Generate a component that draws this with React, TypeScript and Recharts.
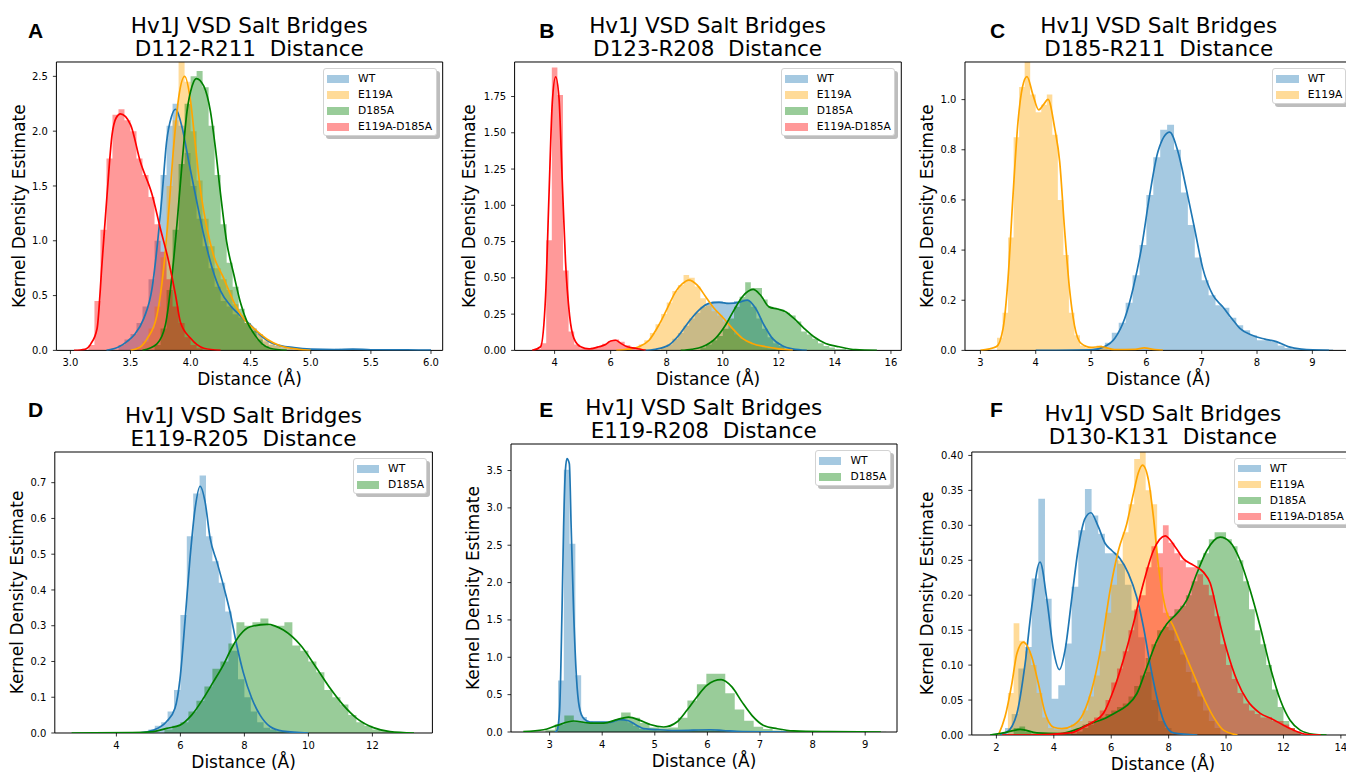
import React from 'react';
import { ComposedChart, Area, Line, XAxis, YAxis, ReferenceArea, Legend, Label } from 'recharts';

const FONT = '"DejaVu Sans", Verdana, sans-serif';
const COLORS: Record<string, string> = { WT: '#1f77b4', E119A: '#ffa500', D185A: '#008000', DBL: '#ff0000' };
const NAMES: Record<string, string> = { WT: 'WT', E119A: 'E119A', D185A: 'D185A', DBL: 'E119A-D185A' };

// ---------- Panel A : D112-R211 ----------
const A_X_TICKS = [3.0, 3.5, 4.0, 4.5, 5.0, 5.5, 6.0];
const A_Y_TICKS = [0, 0.5, 1.0, 1.5, 2.0, 2.5];
const A_WT_BIN = [3.4, 0.05];
const A_WT_HIST = [0.05, 0.1, 0.15, 0.25, 0.4, 0.65, 1.0, 1.6, 2.05, 2.25, 2.05, 1.8, 1.5, 1.2, 0.95, 0.75, 0.58, 0.45, 0.4, 0.33, 0.3, 0.25, 0.2, 0.15, 0.08, 0.05, 0.04, 0.03, 0.02, 0.015, 0.01, 0.01, 0.01, 0.01, 0.01, 0.01, 0.015, 0.01, 0.01, 0.005, 0.005, 0.005, 0.005, 0.005, 0.005, 0.005, 0.005, 0.005, 0.005, 0.005, 0.005, 0.005];
const A_WT_KDE = [[3.3, 0], [3.4, 0.03], [3.47, 0.08], [3.53, 0.14], [3.61, 0.29], [3.68, 0.57], [3.72, 0.93], [3.763, 1.42], [3.8, 1.9], [3.84, 2.13], [3.874, 2.2], [3.93, 2.03], [3.985, 1.72], [4.04, 1.42], [4.11, 1.05], [4.18, 0.75], [4.25, 0.54], [4.33, 0.41], [4.41, 0.32], [4.5, 0.23], [4.58, 0.14], [4.69, 0.06], [4.86, 0.025], [5.0, 0.012], [5.2, 0.008], [5.35, 0.012], [5.5, 0.006], [5.8, 0.004], [6.0, 0.002]];
const A_E119A_BIN = [3.55, 0.05];
const A_E119A_HIST = [0.03, 0.08, 0.2, 0.4, 0.85, 1.5, 2.1, 2.7, 2.45, 2.0, 1.55, 1.2, 0.95, 0.75, 0.65, 0.55, 0.42, 0.32, 0.25, 0.2, 0.15, 0.1, 0.06, 0.04, 0.02, 0.01];
const A_E119A_KDE = [[3.5, 0], [3.58, 0.03], [3.64, 0.11], [3.72, 0.32], [3.776, 0.75], [3.818, 1.27], [3.86, 1.87], [3.9, 2.3], [3.951, 2.5], [4.0, 2.27], [4.04, 1.87], [4.08, 1.48], [4.137, 1.11], [4.19, 0.87], [4.275, 0.66], [4.36, 0.44], [4.44, 0.29], [4.525, 0.2], [4.64, 0.1], [4.75, 0.04], [4.9, 0.01], [5.0, 0]];
const A_D185A_BIN = [3.7, 0.05];
const A_D185A_HIST = [0.05, 0.2, 0.55, 1.1, 1.7, 2.25, 2.5, 2.55, 2.4, 2.05, 1.6, 1.15, 0.8, 0.58, 0.38, 0.25, 0.18, 0.1, 0.04, 0.01];
const A_D185A_KDE = [[3.6, 0], [3.72, 0.06], [3.79, 0.23], [3.846, 0.69], [3.888, 1.17], [3.93, 1.72], [3.97, 2.18], [4.012, 2.41], [4.048, 2.48], [4.11, 2.41], [4.165, 2.18], [4.207, 1.84], [4.25, 1.42], [4.3, 0.99], [4.36, 0.69], [4.414, 0.44], [4.47, 0.26], [4.525, 0.155], [4.595, 0.06], [4.66, 0.02], [4.8, 0]];
const A_DBL_BIN = [3.15, 0.05];
const A_DBL_HIST = [0.05, 0.45, 1.1, 1.75, 2.15, 2.2, 2.1, 2.0, 1.75, 1.6, 1.4, 1.15, 0.9, 0.65, 0.4, 0.25, 0.12, 0.05, 0.02];
const A_DBL_KDE = [[3.03, 0], [3.12, 0.01], [3.17, 0.06], [3.222, 0.2], [3.264, 0.81], [3.305, 1.42], [3.347, 1.97], [3.38, 2.12], [3.416, 2.157], [3.5, 2.06], [3.582, 1.72], [3.68, 1.42], [3.749, 1.11], [3.818, 0.81], [3.874, 0.51], [3.915, 0.26], [4.0, 0.11], [4.11, 0.02], [4.25, 0]];

// ---------- Panel B : D123-R208 ----------
const B_X_TICKS = [4, 6, 8, 10, 12, 14, 16];
const B_Y_TICKS = [0, 0.25, 0.5, 0.75, 1.0, 1.25, 1.5, 1.75];
const B_WT_BIN = [7.8, 0.2];
const B_WT_HIST = [0.02, 0.04, 0.08, 0.12, 0.17, 0.22, 0.26, 0.3, 0.32, 0.34, 0.34, 0.33, 0.32, 0.34, 0.35, 0.34, 0.3, 0.22, 0.15, 0.09, 0.05, 0.03, 0.01];
const B_WT_KDE = [[7.2, 0], [7.6, 0.008], [8.08, 0.037], [8.44, 0.106], [8.79, 0.198], [9.15, 0.278], [9.51, 0.324], [9.87, 0.331], [10.22, 0.324], [10.58, 0.331], [10.88, 0.347], [11.17, 0.29], [11.47, 0.175], [11.77, 0.083], [12.12, 0.032], [12.48, 0.01], [13.0, 0]];
const B_E119A_BIN = [7.0, 0.2];
const B_E119A_HIST = [0.04, 0.07, 0.12, 0.18, 0.25, 0.33, 0.41, 0.45, 0.52, 0.5, 0.44, 0.36, 0.31, 0.27, 0.24, 0.2, 0.15, 0.11, 0.08, 0.06, 0.04, 0.03, 0.02, 0.01, 0.01];
const B_E119A_KDE = [[6.2, 0], [6.6, 0.008], [7.01, 0.025], [7.37, 0.07], [7.72, 0.175], [8.02, 0.29], [8.32, 0.405], [8.56, 0.46], [8.79, 0.485], [9.09, 0.45], [9.39, 0.37], [9.69, 0.29], [9.98, 0.232], [10.34, 0.152], [10.7, 0.083], [11.05, 0.048], [11.53, 0.025], [12.0, 0.01], [12.5, 0]];
const B_D185A_BIN = [9.2, 0.2];
const B_D185A_HIST = [0.02, 0.04, 0.07, 0.1, 0.15, 0.22, 0.3, 0.37, 0.47, 0.43, 0.43, 0.35, 0.3, 0.29, 0.28, 0.26, 0.24, 0.2, 0.13, 0.11, 0.08, 0.05, 0.03, 0.02, 0.01, 0.01];
const B_D185A_KDE = [[8.5, 0], [8.9, 0.008], [9.27, 0.025], [9.74, 0.083], [10.1, 0.175], [10.4, 0.278], [10.7, 0.37], [11.08, 0.42], [11.35, 0.38], [11.65, 0.3], [11.95, 0.285], [12.24, 0.267], [12.54, 0.22], [12.9, 0.152], [13.25, 0.094], [13.67, 0.048], [14.15, 0.025], [14.74, 0.005], [15.5, 0]];
const B_DBL_BIN = [3.3, 0.2];
const B_DBL_HIST = [0.01, 0.05, 0.76, 1.95, 1.76, 0.55, 0.13, 0.04, 0.015, 0.015, 0.02, 0.03, 0.045, 0.065, 0.075, 0.06, 0.035, 0.02, 0.01];
const B_DBL_KDE = [[3.2, 0], [3.5, 0.025], [3.68, 0.38], [3.8, 1.07], [3.918, 1.71], [4.036, 1.886], [4.157, 1.74], [4.27, 1.185], [4.39, 0.61], [4.535, 0.24], [4.69, 0.083], [4.93, 0.025], [5.23, 0.01], [5.58, 0.025], [5.82, 0.04], [6.0, 0.065], [6.18, 0.07], [6.35, 0.05], [6.59, 0.025], [6.89, 0.015], [7.25, 0]];

// ---------- Panel C : D185-R211 ----------
const C_X_TICKS = [3, 4, 5, 6, 7, 8, 9];
const C_Y_TICKS = [0, 0.2, 0.4, 0.6, 0.8, 1.0];
const C_WT_BIN = [5.125, 0.125];
const C_WT_HIST = [0.01, 0.03, 0.07, 0.11, 0.19, 0.3, 0.42, 0.62, 0.77, 0.88, 0.9, 0.8, 0.63, 0.5, 0.37, 0.28, 0.22, 0.18, 0.17, 0.13, 0.1, 0.08, 0.06, 0.04, 0.04, 0.035, 0.02, 0.01, 0.005, 0.005, 0.005, 0.005, 0.005, 0.005];
const C_WT_KDE = [[4.0, 0], [5.0, 0.002], [5.246, 0.015], [5.43, 0.048], [5.61, 0.128], [5.76, 0.247], [5.91, 0.407], [6.06, 0.62], [6.21, 0.793], [6.421, 0.87], [6.57, 0.793], [6.72, 0.646], [6.87, 0.487], [7.02, 0.327], [7.2, 0.221], [7.38, 0.174], [7.54, 0.128], [7.69, 0.088], [7.9, 0.061], [8.14, 0.045], [8.35, 0.035], [8.56, 0.015], [8.8, 0.005], [9.3, 0]];
const C_E119A_BIN = [3.3, 0.1];
const C_E119A_HIST = [0.05, 0.15, 0.45, 0.85, 1.05, 1.15, 1.02, 0.95, 0.98, 1.02, 0.86, 0.6, 0.38, 0.15, 0.06, 0.02, 0.01, 0.01, 0.02, 0.01];
const C_E119A_KDE = [[3.0, 0], [3.29, 0.015], [3.41, 0.088], [3.5, 0.287], [3.59, 0.62], [3.68, 0.912], [3.76, 1.05], [3.842, 1.092], [3.95, 1.019], [4.054, 0.959], [4.14, 0.98], [4.222, 1.001], [4.343, 0.886], [4.433, 0.753], [4.52, 0.487], [4.61, 0.247], [4.7, 0.1], [4.82, 0.028], [5.0, 0.012], [5.18, 0.015], [5.42, 0.003], [5.8, 0.004], [5.96, 0.01], [6.15, 0.003], [6.3, 0]];

// ---------- Panel D : E119-R205 ----------
const D_X_TICKS = [4, 6, 8, 10, 12];
const D_Y_TICKS = [0, 0.1, 0.2, 0.3, 0.4, 0.5, 0.6, 0.7];
const D_WT_BIN = [5.0, 0.2];
const D_WT_HIST = [0.01, 0.02, 0.03, 0.06, 0.12, 0.33, 0.55, 0.67, 0.72, 0.55, 0.48, 0.42, 0.34, 0.23, 0.15, 0.1, 0.06, 0.03, 0.015, 0.01, 0.005, 0.003];
const D_WT_KDE = [[4.7, 0], [5.16, 0.008], [5.57, 0.032], [5.83, 0.069], [5.99, 0.153], [6.15, 0.32], [6.3, 0.488], [6.46, 0.628], [6.616, 0.69], [6.77, 0.647], [6.93, 0.544], [7.14, 0.479], [7.34, 0.414], [7.55, 0.339], [7.76, 0.246], [7.96, 0.171], [8.23, 0.097], [8.49, 0.05], [8.8, 0.018], [9.2, 0.005], [10.0, 0]];
const D_D185A_BIN = [5.5, 0.25];
const D_D185A_HIST = [0.01, 0.02, 0.03, 0.06, 0.09, 0.13, 0.18, 0.2, 0.25, 0.31, 0.3, 0.31, 0.32, 0.3, 0.3, 0.31, 0.245, 0.23, 0.2, 0.17, 0.12, 0.1, 0.08, 0.05, 0.03, 0.02, 0.01, 0.005, 0.003, 0.002];
const D_D185A_KDE = [[2.6, 0], [4.5, 0.001], [5.16, 0.004], [5.57, 0.013], [5.99, 0.022], [6.35, 0.05], [6.72, 0.097], [7.03, 0.143], [7.34, 0.19], [7.6, 0.237], [7.86, 0.274], [8.18, 0.297], [8.71, 0.304], [9.22, 0.288], [9.75, 0.246], [10.26, 0.181], [10.68, 0.125], [11.09, 0.078], [11.51, 0.041], [12.03, 0.015], [12.55, 0.004], [13.3, 0]];

// ---------- Panel E : E119-R208 ----------
const E_X_TICKS = [3, 4, 5, 6, 7, 8, 9];
const E_Y_TICKS = [0, 0.5, 1.0, 1.5, 2.0, 2.5, 3.0, 3.5];
const E_WT_BIN = [3.16, 0.11];
const E_WT_HIST = [0.69, 3.51, 2.52, 0.76, 0.2, 0.14, 0.13, 0.13, 0.13, 0.14, 0.16, 0.16, 0.13, 0.08, 0.04, 0.03, 0.03, 0.02, 0.02, 0.02, 0.02, 0.02, 0.02, 0.03, 0.03, 0.03, 0.03, 0.02, 0.02, 0.01];
const E_WT_KDE = [[3.1, 0], [3.14, 0.02], [3.19, 0.29], [3.236, 1.63], [3.266, 2.74], [3.3, 3.5], [3.33, 3.66], [3.375, 3.59], [3.41, 2.74], [3.456, 1.63], [3.51, 0.736], [3.565, 0.335], [3.65, 0.178], [3.77, 0.134], [3.96, 0.134], [4.15, 0.13], [4.34, 0.165], [4.5, 0.15], [4.66, 0.088], [4.79, 0.044], [5.1, 0.03], [5.42, 0.02], [6.05, 0.03], [6.3, 0.02], [6.66, 0.005], [7.5, 0]];
const E_D185A_BIN = [2.92, 0.18];
const E_D185A_HIST = [0.03, 0.1, 0.22, 0.14, 0.13, 0.12, 0.13, 0.16, 0.26, 0.19, 0.12, 0.06, 0.05, 0.06, 0.19, 0.42, 0.64, 0.78, 0.78, 0.52, 0.3, 0.15, 0.07, 0.04, 0.02, 0.01, 0.01, 0.01, 0.005, 0.005, 0.005, 0.005, 0.005, 0.005, 0.005, 0.005];
const E_D185A_KDE = [[2.5, 0.005], [2.886, 0.03], [3.14, 0.088], [3.456, 0.147], [3.77, 0.12], [4.03, 0.12], [4.28, 0.165], [4.5, 0.2], [4.72, 0.155], [4.91, 0.1], [5.17, 0.067], [5.42, 0.134], [5.61, 0.29], [5.8, 0.469], [5.99, 0.624], [6.26, 0.7], [6.47, 0.6], [6.66, 0.4], [6.85, 0.22], [7.07, 0.088], [7.33, 0.044], [7.64, 0.015], [8.3, 0.005], [9.3, 0]];

// ---------- Panel F : D130-K131 ----------
const F_X_TICKS = [2, 4, 6, 8, 10, 12, 14];
const F_Y_TICKS = [0, 0.05, 0.1, 0.15, 0.2, 0.25, 0.3, 0.35, 0.4];
const F_WT_BIN = [2.3, 0.232];
const F_WT_HIST = [0.01, 0.03, 0.095, 0.126, 0.224, 0.338, 0.195, 0.052, 0.071, 0.131, 0.212, 0.293, 0.352, 0.314, 0.288, 0.26, 0.26, 0.245, 0.215, 0.178, 0.14, 0.09, 0.05, 0.02, 0.01];
const F_WT_KDE = [[2.0, 0], [2.36, 0.004], [2.71, 0.03], [3.0, 0.102], [3.23, 0.183], [3.52, 0.2475], [3.76, 0.193], [3.99, 0.121], [4.195, 0.0935], [4.39, 0.121], [4.63, 0.197], [4.86, 0.269], [5.09, 0.31], [5.29, 0.318], [5.55, 0.298], [5.79, 0.274], [6.02, 0.264], [6.31, 0.252], [6.6, 0.231], [6.89, 0.197], [7.12, 0.155], [7.35, 0.102], [7.59, 0.054], [7.82, 0.021], [8.17, 0.003], [9.0, 0]];
const F_E119A_BIN = [2.4, 0.2];
const F_E119A_HIST = [0.06, 0.16, 0.135, 0.12, 0.1, 0.06, 0.025, 0.01, 0.008, 0.008, 0.008, 0.015, 0.02, 0.035, 0.055, 0.085, 0.12, 0.175, 0.215, 0.25, 0.29, 0.33, 0.395, 0.41, 0.35, 0.33, 0.24, 0.175, 0.15, 0.135, 0.115, 0.09, 0.075, 0.055, 0.035, 0.02, 0.01];
const F_E119A_KDE = [[2.07, 0], [2.3, 0.026], [2.54, 0.074], [2.71, 0.116], [2.94, 0.133], [3.23, 0.112], [3.46, 0.074], [3.7, 0.031], [3.99, 0.011], [4.28, 0.009], [4.68, 0.014], [5.03, 0.031], [5.38, 0.074], [5.67, 0.131], [5.96, 0.207], [6.25, 0.264], [6.54, 0.302], [6.77, 0.345], [6.95, 0.376], [7.09, 0.386], [7.3, 0.364], [7.47, 0.312], [7.65, 0.24], [7.88, 0.183], [8.17, 0.155], [8.52, 0.121], [8.86, 0.088], [9.21, 0.054], [9.56, 0.026], [9.91, 0.007], [10.4, 0]];
const F_D185A_BIN = [2.6, 0.2];
const F_D185A_HIST = [0.01, 0.012, 0.005, 0.002, 0.002, 0.002, 0.002, 0.002, 0.002, 0.002, 0.002, 0.005, 0.01, 0.015, 0.02, 0.025, 0.03, 0.035, 0.04, 0.045, 0.055, 0.07, 0.085, 0.11, 0.13, 0.15, 0.155, 0.17, 0.18, 0.185, 0.2, 0.22, 0.25, 0.26, 0.28, 0.29, 0.29, 0.28, 0.27, 0.25, 0.22, 0.18, 0.15, 0.13, 0.1, 0.065, 0.04, 0.02, 0.01, 0.005];
const F_D185A_KDE = [[1.78, 0], [2.24, 0.003], [2.83, 0.008], [3.41, 0.003], [4.22, 0.002], [4.8, 0.008], [5.26, 0.016], [5.73, 0.023], [6.19, 0.033], [6.54, 0.042], [6.89, 0.059], [7.24, 0.097], [7.59, 0.135], [7.94, 0.159], [8.29, 0.174], [8.63, 0.193], [8.98, 0.231], [9.33, 0.264], [9.795, 0.283], [10.14, 0.276], [10.49, 0.25], [10.84, 0.207], [11.19, 0.155], [11.54, 0.097], [11.89, 0.05], [12.23, 0.021], [12.58, 0.007], [13.05, 0.001], [13.5, 0]];
const F_DBL_BIN = [4.6, 0.2];
const F_DBL_HIST = [0.005, 0.01, 0.015, 0.02, 0.025, 0.035, 0.05, 0.075, 0.095, 0.12, 0.15, 0.18, 0.2, 0.24, 0.27, 0.26, 0.3, 0.275, 0.26, 0.25, 0.24, 0.24, 0.23, 0.215, 0.2, 0.17, 0.13, 0.1, 0.08, 0.06, 0.045, 0.035, 0.03, 0.025, 0.025, 0.02, 0.02, 0.015, 0.01, 0.005];
const F_DBL_KDE = [[2.2, 0], [3.2, 0], [4.57, 0.003], [5.03, 0.011], [5.38, 0.019], [5.73, 0.031], [6.08, 0.064], [6.42, 0.107], [6.77, 0.159], [7.12, 0.217], [7.47, 0.264], [7.88, 0.285], [8.23, 0.269], [8.52, 0.252], [8.86, 0.243], [9.21, 0.233], [9.45, 0.217], [9.73, 0.169], [10.03, 0.121], [10.38, 0.078], [10.73, 0.05], [11.19, 0.031], [11.6, 0.023], [12.0, 0.014], [12.35, 0.007], [12.8, 0.001], [13.3, 0]];

// ---------- helpers ----------
type Series = { key: string; bin: number[]; hist: number[]; kde: number[][] };

function histRows(bin: number[], h: number[]) {
  const [start, w] = bin;
  const rows = h.map((v, i) => ({ x: +(start + i * w).toFixed(5), y: v }));
  rows.push({ x: +(start + h.length * w).toFixed(5), y: 0 });
  return rows;
}
function kdeRows(p: number[][]) {
  return p.map(([x, y]) => ({ x, y }));
}

type PanelCfg = {
  id: string;
  title2: string;
  L: number; T: number; R: number; B: number; dY: number;
  xDom: [number, number]; yDom: [number, number];
  xTicks: number[]; yTicks: number[];
  xDec: number; yDec: number;
  series: Series[];
  legendW: number;
};

const PANELS: PanelCfg[] = [
  {
    id: 'A', title2: 'D112-R211  Distance', L: 56, T: 62.3, R: 442.3, B: 350.7, dY: 37.7,
    xDom: [2.8835, 6.0973], yDom: [0, 2.631], xTicks: A_X_TICKS, yTicks: A_Y_TICKS, xDec: 1, yDec: 1,
    series: [
      { key: 'WT', bin: A_WT_BIN, hist: A_WT_HIST, kde: A_WT_KDE },
      { key: 'E119A', bin: A_E119A_BIN, hist: A_E119A_HIST, kde: A_E119A_KDE },
      { key: 'D185A', bin: A_D185A_BIN, hist: A_D185A_HIST, kde: A_D185A_KDE },
      { key: 'DBL', bin: A_DBL_BIN, hist: A_DBL_HIST, kde: A_DBL_KDE },
    ], legendW: 114,
  },
  {
    id: 'B', title2: 'D123-R208  Distance', L: 514.3, T: 62.3, R: 901, B: 350.7, dY: 45.3,
    xDom: [2.573, 16.369], yDom: [0, 1.988], xTicks: B_X_TICKS, yTicks: B_Y_TICKS, xDec: 0, yDec: 2,
    series: [
      { key: 'WT', bin: B_WT_BIN, hist: B_WT_HIST, kde: B_WT_KDE },
      { key: 'E119A', bin: B_E119A_BIN, hist: B_E119A_HIST, kde: B_E119A_KDE },
      { key: 'D185A', bin: B_D185A_BIN, hist: B_D185A_HIST, kde: B_D185A_KDE },
      { key: 'DBL', bin: B_DBL_BIN, hist: B_DBL_HIST, kde: B_DBL_KDE },
    ], legendW: 114,
  },
  {
    id: 'C', title2: 'D185-R211  Distance', L: 965.3, T: 62.3, R: 1352, B: 350.7, dY: 38,
    xDom: [2.7217, 9.711], yDom: [0, 1.15], xTicks: C_X_TICKS, yTicks: C_Y_TICKS, xDec: 0, yDec: 1,
    series: [
      { key: 'WT', bin: C_WT_BIN, hist: C_WT_HIST, kde: C_WT_KDE },
      { key: 'E119A', bin: C_E119A_BIN, hist: C_E119A_HIST, kde: C_E119A_KDE },
    ], legendW: 74,
  },
  {
    id: 'D', title2: 'E119-R205  Distance', L: 54.7, T: 452.3, R: 432.3, B: 733.3, dY: 37.4,
    xDom: [2.075, 13.875], yDom: [0, 0.7858], xTicks: D_X_TICKS, yTicks: D_Y_TICKS, xDec: 0, yDec: 1,
    series: [
      { key: 'WT', bin: D_WT_BIN, hist: D_WT_HIST, kde: D_WT_KDE },
      { key: 'D185A', bin: D_D185A_BIN, hist: D_D185A_HIST, kde: D_D185A_KDE },
    ], legendW: 74,
  },
  {
    id: 'E', title2: 'E119-R208  Distance', L: 510.7, T: 444.3, R: 896.7, B: 732.3, dY: 38,
    xDom: [2.266, 9.605], yDom: [0, 3.855], xTicks: E_X_TICKS, yTicks: E_Y_TICKS, xDec: 0, yDec: 1,
    series: [
      { key: 'WT', bin: E_WT_BIN, hist: E_WT_HIST, kde: E_WT_KDE },
      { key: 'D185A', bin: E_D185A_BIN, hist: E_D185A_HIST, kde: E_D185A_KDE },
    ], legendW: 76,
  },
  {
    id: 'F', title2: 'D130-K131  Distance', L: 971.7, T: 451.7, R: 1354, B: 734.7, dY: 44.4,
    xDom: [1.143, 14.46], yDom: [0, 0.4049], xTicks: F_X_TICKS, yTicks: F_Y_TICKS, xDec: 0, yDec: 2,
    series: [
      { key: 'WT', bin: F_WT_BIN, hist: F_WT_HIST, kde: F_WT_KDE },
      { key: 'E119A', bin: F_E119A_BIN, hist: F_E119A_HIST, kde: F_E119A_KDE },
      { key: 'D185A', bin: F_D185A_BIN, hist: F_D185A_HIST, kde: F_D185A_KDE },
      { key: 'DBL', bin: F_DBL_BIN, hist: F_DBL_HIST, kde: F_DBL_KDE },
    ], legendW: 114,
  },
];

// title / letter positions: [centerX, baseline1, letterX, letterBaseline]
const TITLE_POS: Record<string, number[]> = {
  A: [249.2, 32.7, 28, 37.7],
  B: [707.6, 32.7, 539.3, 37.7],
  C: [1158.7, 32.7, 990, 38.3],
  D: [243.5, 422.7, 28, 416.7],
  E: [703.7, 415, 539.3, 416.7],
  F: [1162.8, 421, 990, 416.7],
};

function LegendBox({ keys, width }: { keys: string[]; width: number }) {
  const height = 19.7 + 16 * (keys.length - 1);
  return (
    <div
      style={{
        position: 'relative', width, height, boxSizing: 'border-box', background: '#fff',
        border: '1px solid #d3d3d3', borderRadius: 3, boxShadow: '3px 3px 0 #bdbdbd',
        fontFamily: FONT, fontSize: 10.7, color: '#000',
      }}
    >
      {keys.map((k, i) => (
        <div key={k} style={{ position: 'absolute', left: 0, top: 9.85 + 16 * i - 8, height: 16, display: 'flex', alignItems: 'center' }}>
          <div style={{ marginLeft: 3, width: 22.3, height: 7.3, background: COLORS[k], opacity: 0.4 }} />
          <span style={{ marginLeft: 9, whiteSpace: 'nowrap', lineHeight: '16px' }}>{NAMES[k]}</span>
        </div>
      ))}
    </div>
  );
}

function Panel({ cfg }: { cfg: PanelCfg }) {
  const mt = 6, mr = 6, xh = 40;
  const Wy = cfg.dY * 2;
  const plotW = cfg.R - cfg.L;
  const plotH = cfg.B - cfg.T;
  const width = Wy + plotW + mr;
  const height = mt + plotH + xh;
  const left = cfg.L - Wy;
  const top = cfg.T - mt;
  const keys = cfg.series.map((s) => s.key);
  const legH = 19.7 + 16 * (keys.length - 1);
  const legLeft = Wy + plotW - 5.5 - cfg.legendW;
  const legTop = mt + 6;
  const items: React.ReactElement[] = [];
  cfg.series.forEach((s) => {
    items.push(
      <Area
        key={s.key + '-h'}
        data={histRows(s.bin, s.hist)}
        dataKey="y"
        type="stepAfter"
        stroke="none"
        fill={COLORS[s.key]}
        fillOpacity={0.4}
        dot={false}
        activeDot={false}
        isAnimationActive={false}
      />
    );
    items.push(
      <Line
        key={s.key + '-k'}
        data={kdeRows(s.kde)}
        dataKey="y"
        type="monotone"
        stroke={COLORS[s.key]}
        strokeWidth={1.7}
        dot={false}
        activeDot={false}
        isAnimationActive={false}
      />
    );
  });
  return (
    <div style={{ position: 'absolute', left, top, width, height }}>
      <ComposedChart width={width} height={height} margin={{ top: mt, right: mr, left: 0, bottom: 0 }}>
        <XAxis
          dataKey="x"
          type="number"
          domain={cfg.xDom}
          ticks={cfg.xTicks}
          allowDataOverflow
          interval={0}
          height={xh}
          tickSize={3.5}
          tickMargin={5}
          axisLine={false}
          tickLine={{ stroke: '#000', strokeWidth: 0.8 }}
          tick={{ fontSize: 10, fill: '#000', fontFamily: FONT }}
          tickFormatter={(v: number) => v.toFixed(cfg.xDec)}
        >
          <Label value="Distance (Å)" position="insideBottom" offset={5} fontSize={17} fill="#000" fontFamily={FONT} />
        </XAxis>
        <YAxis
          type="number"
          domain={cfg.yDom}
          ticks={cfg.yTicks}
          allowDataOverflow
          interval={0}
          width={Wy}
          tickSize={3.5}
          tickMargin={5}
          axisLine={false}
          tickLine={{ stroke: '#000', strokeWidth: 0.8 }}
          tick={{ fontSize: 10, fill: '#000', fontFamily: FONT }}
          tickFormatter={(v: number) => v.toFixed(cfg.yDec)}
        >
          <Label value="Kernel Density Estimate" angle={-90} position="center" fontSize={17} fill="#000" fontFamily={FONT} />
        </YAxis>
        {items}
        <ReferenceArea x1={cfg.xDom[0]} x2={cfg.xDom[1]} y1={cfg.yDom[0]} y2={cfg.yDom[1]} fill="none" fillOpacity={0} stroke="#000" strokeWidth={1} strokeOpacity={1} />
        <Legend
          layout="vertical"
          align="center"
          verticalAlign="middle"
          wrapperStyle={{ left: legLeft, top: legTop, width: cfg.legendW + 4, height: legH + 4, right: 'auto', bottom: 'auto' }}
          content={() => <LegendBox keys={keys} width={cfg.legendW} />}
        />
      </ComposedChart>
    </div>
  );
}

export default function App() {
  return (
    <div style={{ position: 'absolute', left: 0, top: 0, width: 1346, height: 773, overflow: 'hidden', background: '#fff' }}>
      {PANELS.map((p) => (
        <Panel key={p.id} cfg={p} />
      ))}
      <svg width={1346} height={773} style={{ position: 'absolute', left: 0, top: 0, pointerEvents: 'none' }}>
        {PANELS.map((p) => {
          const [cx, b1, lx, lb] = TITLE_POS[p.id];
          return (
            <g key={p.id}>
              <text x={cx} y={b1} textAnchor="middle" fontFamily={FONT} fontSize={21.5} fill="#000" style={{ whiteSpace: 'pre' }}>
                Hv1J VSD Salt Bridges
              </text>
              <text x={cx} y={b1 + 23.3} textAnchor="middle" fontFamily={FONT} fontSize={21.5} fill="#000" style={{ whiteSpace: 'pre' }}>
                {p.title2}
              </text>
              <text x={lx} y={lb} fontFamily='"Liberation Sans", Arial, sans-serif' fontWeight="bold" fontSize={21} fill="#000">
                {p.id}
              </text>
            </g>
          );
        })}
      </svg>
    </div>
  );
}
